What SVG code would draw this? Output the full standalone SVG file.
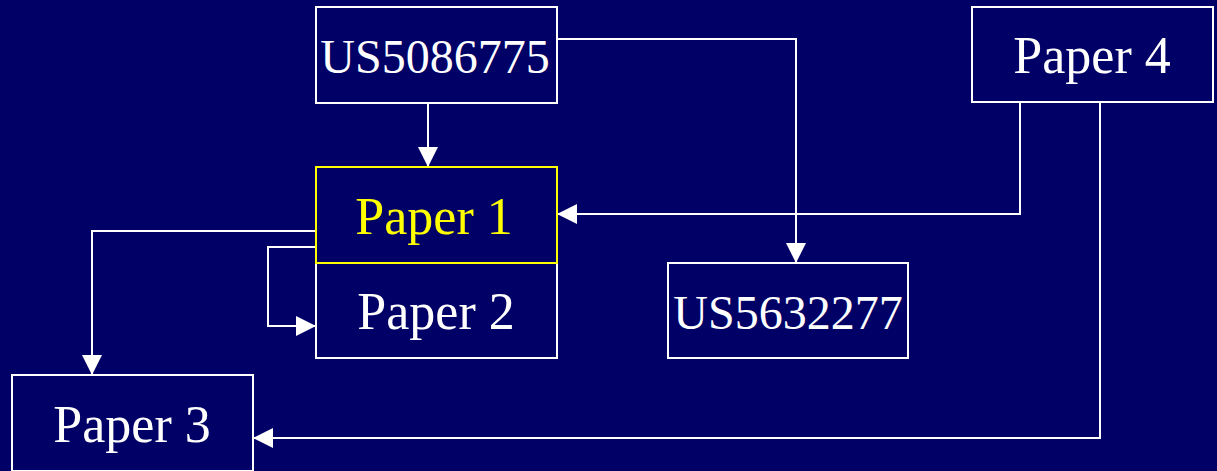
<svg xmlns="http://www.w3.org/2000/svg" width="1217" height="471" viewBox="0 0 1217 471">
<style>
.box{fill:#000066;stroke:#ffffff;stroke-width:2}
.hl{stroke:#ffff00}
.t{font-family:"Liberation Serif","Times New Roman",serif;font-size:52px;fill:#ffffff;text-anchor:middle}
.us{font-size:48px}
.ty{fill:#ffff00}
.c{fill:none;stroke:#ffffff;stroke-width:2}
</style>
<defs>
<marker id="ah" viewBox="0 0 20 20" refX="20" refY="10" markerWidth="20" markerHeight="20" markerUnits="userSpaceOnUse" orient="auto">
<path d="M0,0 L20,10 L0,20 Z" fill="#ffffff"/>
</marker>
</defs>
<rect width="1217" height="471" fill="#000066"/>
<g id="connectors">
<path class="c" d="M428,103 V167" marker-end="url(#ah)"/>
<path class="c" d="M557,39 H796 V263" marker-end="url(#ah)"/>
<path class="c" d="M1020,103 V214 H557" marker-end="url(#ah)"/>
<path class="c" d="M1100,103 V438 H253" marker-end="url(#ah)"/>
<path class="c" d="M316,231 H92 V375" marker-end="url(#ah)"/>
<path class="c" d="M316,247 H268 V326 H316" marker-end="url(#ah)"/>
</g>
<g id="us5086775">
<rect class="box" x="316" y="7" width="241" height="96"/>
<text class="t us" x="435" y="73">US5086775</text>
</g>
<g id="paper2">
<rect class="box" x="316" y="263" width="241" height="95"/>
<text class="t" x="436" y="329">Paper 2</text>
</g>
<g id="paper1">
<rect class="box hl" x="316" y="167" width="241" height="96"/>
<text class="t ty" x="434" y="234">Paper 1</text>
</g>
<g id="us5632277">
<rect class="box" x="668" y="263" width="240" height="95"/>
<text class="t us" x="788" y="329">US5632277</text>
</g>
<g id="paper4">
<rect class="box" x="972" y="7" width="241" height="95"/>
<text class="t" x="1092" y="73">Paper 4</text>
</g>
<g id="paper3">
<rect class="box" x="12" y="375" width="241" height="96"/>
<text class="t" x="132" y="442">Paper 3</text>
</g>
</svg>
